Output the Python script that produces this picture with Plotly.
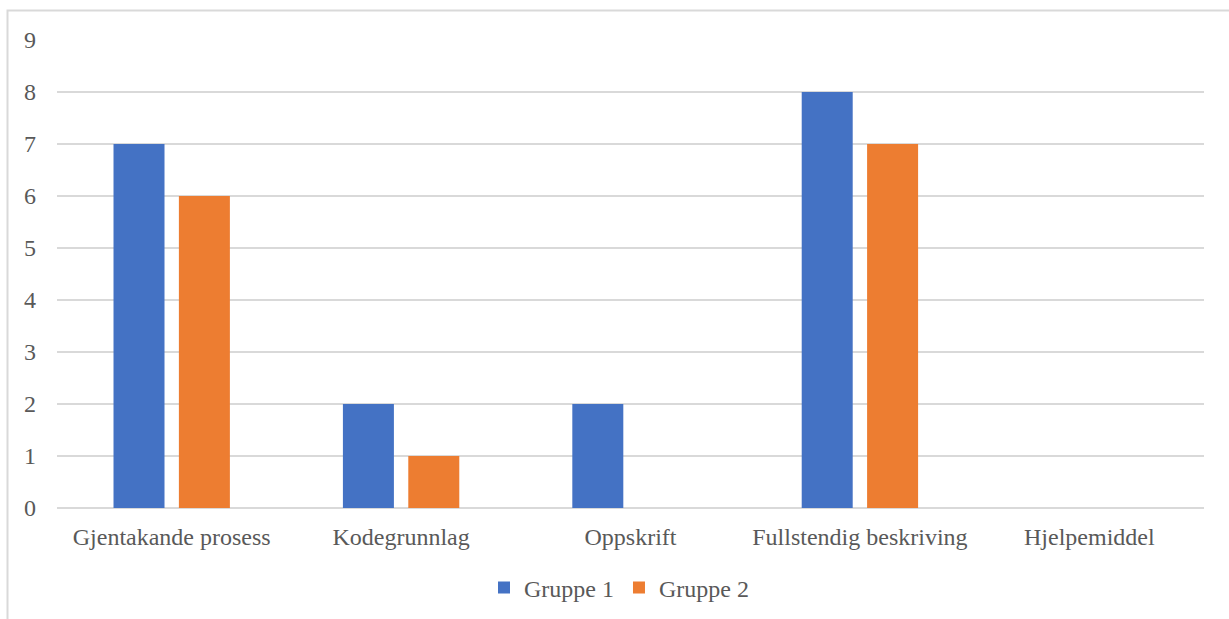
import plotly.graph_objects as go

categories = ["Gjentakande prosess", "Kodegrunnlag", "Oppskrift", "Fullstendig beskriving", "Hjelpemiddel"]
gruppe1 = [7, 2, 2, 8, 0]
gruppe2 = [6, 1, 0, 7, 0]
y_ticks = [0, 1, 2, 3, 4, 5, 6, 7, 8, 9]

W, H = 1229, 619
L, R, T, B = 57, 25, 40, 111
pw = W - L - R
ph = H - T - B

font_family = "Liberation Serif, Times New Roman, serif"
gray = "#595959"
fs = 24

fig = go.Figure()
fig.add_trace(go.Bar(x=categories, y=gruppe1, name="Gruppe 1", marker=dict(color="#4472C4", line=dict(width=0))))
fig.add_trace(go.Bar(x=categories, y=gruppe2, name="Gruppe 2", marker=dict(color="#ED7D31", line=dict(width=0))))

def px_x(p):
    return (p - L) / pw

def px_y(p):
    return (H - B - p) / ph

fig.update_layout(
    width=W, height=H,
    margin=dict(l=L, r=R, t=T, b=B, autoexpand=False),
    paper_bgcolor="white", plot_bgcolor="white",
    barmode="group", bargap=0.43, bargroupgap=0.22,
    font=dict(family=font_family, color=gray, size=fs),
    xaxis=dict(showgrid=False, showline=False, zeroline=False, ticks="",
               ticklabelstandoff=12,
               tickfont=dict(size=fs, color=gray), automargin=False),
    yaxis=dict(range=[0, 9], tickvals=y_ticks, showgrid=True, gridcolor="#D9D9D9", gridwidth=1.5,
               zeroline=True, zerolinecolor="#D9D9D9", zerolinewidth=1.5, showline=False,
               ticks="", ticklabelstandoff=20, tickfont=dict(size=fs, color=gray), automargin=False),
    legend=dict(orientation="h", x=px_x(619), xanchor="center", y=px_y(588), yanchor="middle",
                font=dict(size=fs, color=gray), itemwidth=30, traceorder="normal"),
    shapes=[dict(type="rect", xref="paper", yref="paper",
                 x0=px_x(7.5), x1=px_x(1260), y0=px_y(10.5), y1=px_y(660),
                 line=dict(color="#D9D9D9", width=2), fillcolor="rgba(0,0,0,0)", layer="below")],
)

fig.write_html("out.html")
